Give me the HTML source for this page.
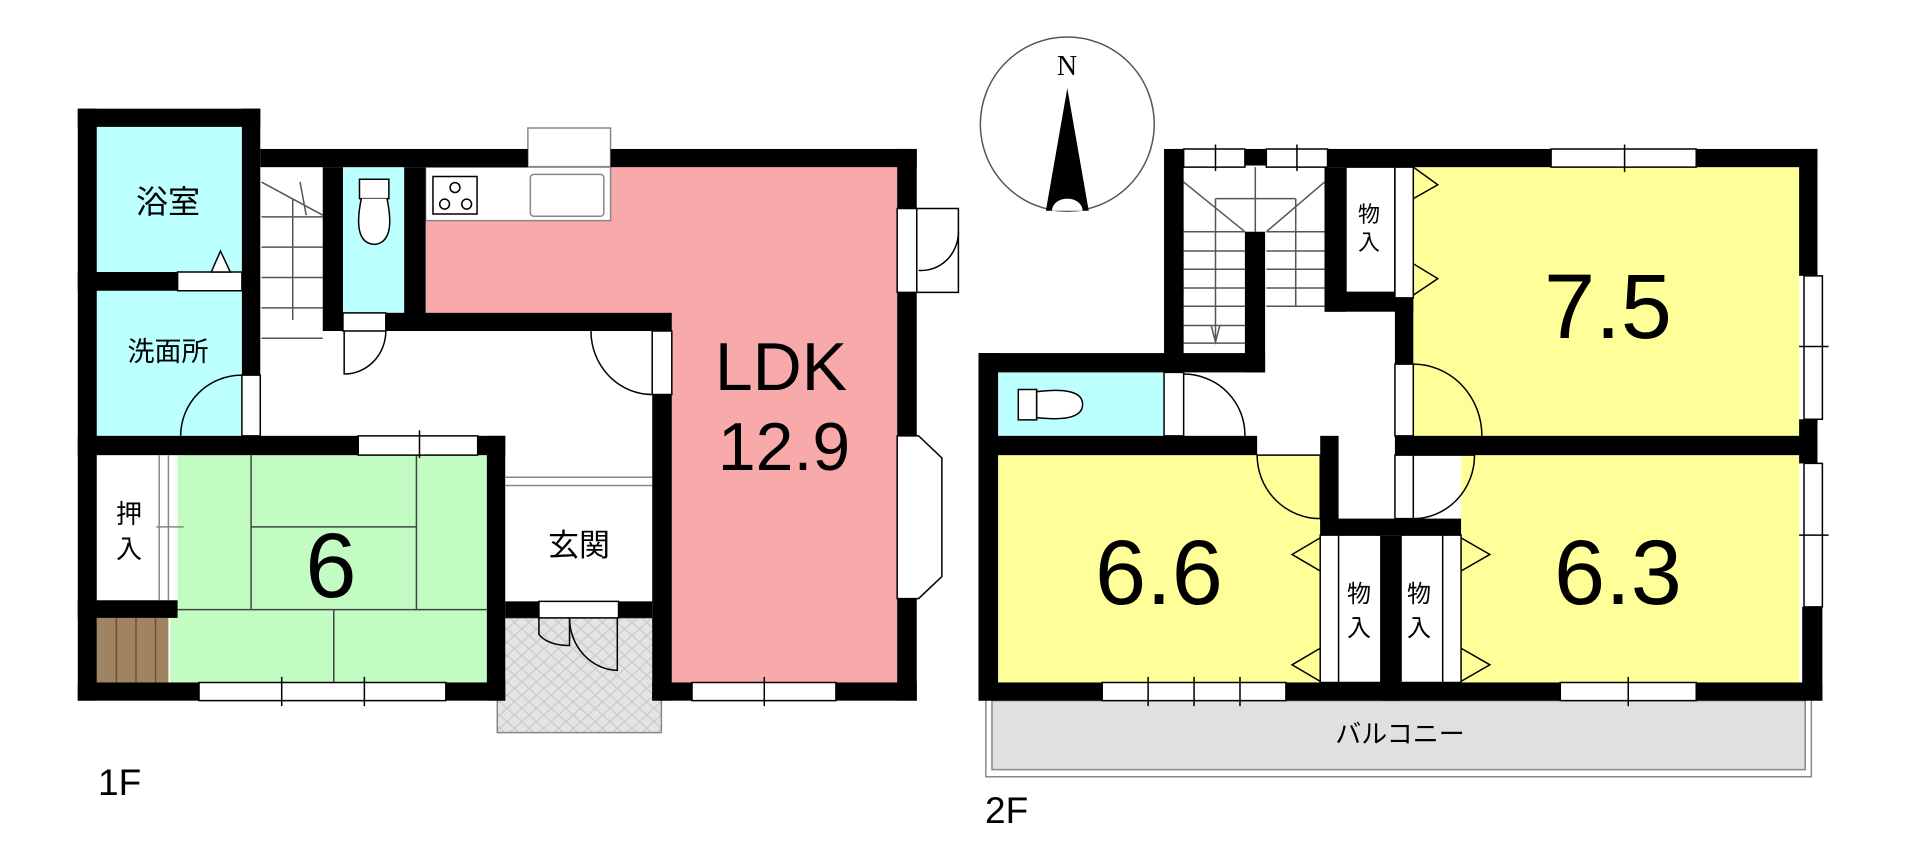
<!DOCTYPE html>
<html><head><meta charset="utf-8"><style>
html,body{margin:0;padding:0;background:#fff;overflow:hidden}
svg{display:block}
text{font-family:"Liberation Sans","Noto Sans CJK JP",sans-serif;fill:#000}
[stroke]{vector-effect:non-scaling-stroke}
g[stroke] *{vector-effect:non-scaling-stroke}
</style></head><body>
<svg width="1914" height="865" viewBox="0 0 1914 865" xmlns="http://www.w3.org/2000/svg">
<defs>
<pattern id="hat" width="24" height="24" patternUnits="userSpaceOnUse">
<rect width="24" height="24" fill="#e4e4e4"/>
<path d="M0 0L24 24M24 0L0 24" stroke="#c8c8c8" stroke-width="2"/>
</pattern>
</defs>
<!-- 1F -->
<g transform="scale(0.6124,0.5517)">
 <rect x="158" y="230" width="237" height="263" fill="#bbffff"/>
 <rect x="158" y="527" width="237" height="263" fill="#bbffff"/>
 <rect x="560" y="303" width="100" height="264" fill="#bbffff"/>
 <polygon points="695,303 1465,303 1465,1237 1097,1237 1097,567 695,567" fill="#f8a9a9"/>
 <rect x="695" y="303" width="302" height="97" fill="#fff" stroke="#888" stroke-width="1.5"/>
 <rect x="707" y="320" width="72" height="68" fill="#fff" stroke="#000" stroke-width="1.5"/>
 <ellipse cx="743" cy="340" rx="8" ry="9" fill="none" stroke="#000" stroke-width="1.5"/>
 <ellipse cx="726" cy="370" rx="8" ry="9" fill="none" stroke="#000" stroke-width="1.5"/>
 <ellipse cx="762" cy="370" rx="8" ry="9" fill="none" stroke="#000" stroke-width="1.5"/>
 <rect x="866" y="316" width="120" height="76" rx="6" fill="#fff" stroke="#888" stroke-width="1.5"/>
 <rect x="862" y="232" width="135" height="70" fill="#fff" stroke="#888" stroke-width="1.5"/>
 <rect x="290" y="825" width="505" height="412" fill="#c2fcc2"/>
 <rect x="278" y="1120" width="20" height="117" fill="#c2fcc2"/>
 <g stroke="#444" stroke-width="1.5" fill="none">
  <path d="M410 825V1105M680 825V1105M290 1105H795M410 955H680M545 1105V1237"/>
 </g>
 <rect x="158" y="825" width="102" height="263" fill="#fff"/>
 <rect x="158" y="1120" width="117" height="117" fill="#a08462"/>
 <path d="M190 1120V1237M222 1120V1237M254 1120V1237" stroke="#6b5335" stroke-width="1.5"/>
 <rect x="812" y="1120" width="268" height="208" fill="url(#hat)" stroke="#888" stroke-width="1.5"/>
 <g stroke="#555" stroke-width="1.5" fill="none">
  <path d="M427 393H527M427 448H527M427 503H527M427 558H527M427 613H527M478 360V580M427 330L527 390M490 330L500 390"/>
 </g>
 <rect x="587" y="325" width="48" height="35" fill="#fff" stroke="#000" stroke-width="1.5"/>
 <path d="M590 360Q575 440 611 443Q647 440 632 360" fill="#fff" stroke="#000" stroke-width="1.5"/>
 <g fill="#000">
  <rect x="127" y="197" width="31" height="1073"/>
  <rect x="127" y="197" width="298" height="33"/>
  <rect x="395" y="197" width="30" height="483"/>
  <rect x="127" y="493" width="163" height="34"/>
  <rect x="425" y="270" width="437" height="33"/>
  <rect x="997" y="270" width="500" height="33"/>
  <rect x="527" y="303" width="33" height="297"/>
  <rect x="660" y="303" width="35" height="297"/>
  <rect x="630" y="567" width="467" height="33"/>
  <rect x="1065" y="715" width="32" height="555"/>
  <rect x="1465" y="270" width="32" height="108"/>
  <rect x="1465" y="530" width="32" height="260"/>
  <rect x="1465" y="1085" width="32" height="185"/>
  <rect x="1065" y="1237" width="65" height="33"/>
  <rect x="1365" y="1237" width="132" height="33"/>
  <rect x="127" y="790" width="458" height="35"/>
  <rect x="780" y="790" width="45" height="35"/>
  <rect x="795" y="790" width="30" height="480"/>
  <rect x="127" y="1237" width="198" height="33"/>
  <rect x="728" y="1237" width="97" height="33"/>
  <rect x="127" y="1088" width="163" height="32"/>
  <rect x="825" y="1090" width="55" height="30"/>
  <rect x="1010" y="1090" width="55" height="30"/>
 </g>
 <g stroke="#000" stroke-width="1.5" fill="#fff">
  <rect x="290" y="493" width="105" height="34"/>
  <polygon points="345,493 376,493 360,455"/>
  <rect x="395" y="680" width="30" height="110"/>
  <path d="M395 680A100 110 0 0 0 295 790" fill="none"/>
  <rect x="560" y="567" width="70" height="33"/>
  <path d="M630 600A68 78 0 0 1 562 678V600" fill="none"/>
  <rect x="1065" y="600" width="32" height="115"/>
  <path d="M965 600A100 115 0 0 0 1065 715" fill="none"/>
  <rect x="1465" y="378" width="32" height="152"/>
  <rect x="1497" y="378" width="68" height="152"/>
  <path d="M1565 420A60 70 0 0 1 1500 490" fill="none"/>
  <polygon points="1465,790 1500,790 1538,830 1538,1045 1500,1085 1465,1085"/>
  <rect x="585" y="790" width="195" height="35"/>
  <path d="M685 780V830"/>
  <rect x="325" y="1237" width="403" height="33"/>
  <path d="M460 1227V1280M595 1227V1280"/>
  <rect x="1130" y="1237" width="235" height="33"/>
  <path d="M1248 1227V1280"/>
  <rect x="880" y="1090" width="130" height="30"/>
  <path d="M930 1120V1170Q895 1170 880 1150V1120" fill="none"/>
  <path d="M930 1120A80 95 0 0 0 1008 1215V1120" fill="none"/>
  <path d="M825 865H1065M825 880H1065" fill="none" stroke="#888"/>
  <path d="M260 825V1088M275 825V1088M255 955H300" fill="none" stroke="#888"/>
 </g>
</g>
<!-- 2F -->
<g transform="translate(954,0) scale(0.6124,0.5517)">
 <ellipse cx="185" cy="225" rx="142" ry="158" fill="#fff" stroke="#555" stroke-width="1.5"/>
 <polygon points="185,160 150,382 220,382"/>
 <path d="M160 382A25 22 0 0 1 210 382Z" fill="#fff"/>
 <rect x="72" y="675" width="271" height="115" fill="#bbffff"/>
 <rect x="105" y="706" width="30" height="55" fill="#fff" stroke="#000" stroke-width="1.5"/>
 <path d="M135 710Q210 700 210 733Q210 766 135 757Z" fill="#fff" stroke="#000" stroke-width="1.5"/>
 <rect x="750" y="303" width="630" height="487" fill="#ffff99"/>
 <rect x="72" y="825" width="526" height="412" fill="#ffff99"/>
 <rect x="828" y="825" width="552" height="412" fill="#ffff99"/>
 <rect x="62" y="1270" width="1328" height="125" fill="#e0e0e0" stroke="#888" stroke-width="1.5"/>
 <path d="M52 1270V1408H1400V1270" fill="none" stroke="#888" stroke-width="1.5"/>
 <g stroke="#555" stroke-width="1.5" fill="none">
  <path d="M375 420H475M375 455H475M375 488H475M375 522H475M375 555H475M375 590H475M375 622H475M510 420H605M510 455H605M510 488H605M510 522H605M510 555H605M427 360V620M558 360V555M427 360H558M375 330L475 420M492 303V420M605 330L510 420M420 590L427 620L434 590"/>
 </g>
 <g fill="#000">
  <rect x="343" y="270" width="32" height="405"/>
  <rect x="475" y="270" width="35" height="30"/>
  <rect x="475" y="420" width="33" height="255"/>
  <rect x="40" y="640" width="468" height="35"/>
  <rect x="40" y="640" width="32" height="630"/>
  <rect x="610" y="270" width="365" height="33"/>
  <rect x="1212" y="270" width="198" height="33"/>
  <rect x="605" y="303" width="35" height="262"/>
  <rect x="605" y="530" width="145" height="35"/>
  <rect x="720" y="540" width="30" height="120"/>
  <rect x="1380" y="270" width="30" height="230"/>
  <rect x="1380" y="760" width="30" height="80"/>
  <rect x="1385" y="1100" width="33" height="170"/>
  <rect x="40" y="790" width="455" height="35"/>
  <rect x="598" y="790" width="30" height="180"/>
  <rect x="720" y="790" width="690" height="35"/>
  <rect x="598" y="940" width="230" height="30"/>
  <rect x="697" y="970" width="33" height="300"/>
  <rect x="40" y="1237" width="202" height="33"/>
  <rect x="542" y="1237" width="448" height="33"/>
  <rect x="1212" y="1237" width="206" height="33"/>
 </g>
 <g stroke="#000" stroke-width="1.5" fill="#fff">
  <rect x="375" y="270" width="100" height="33"/>
  <rect x="510" y="270" width="100" height="33"/>
  <path d="M427 262V310M560 262V310"/>
  <rect x="975" y="270" width="237" height="33"/>
  <path d="M1095 262V312"/>
  <rect x="640" y="303" width="80" height="227"/>
  <rect x="720" y="303" width="30" height="237"/>
  <path d="M750 303L790 335L750 360M750 478L790 505L750 535" fill="none"/>
  <rect x="343" y="675" width="32" height="115"/>
  <path d="M375 678A100 110 0 0 1 475 790" fill="none"/>
  <rect x="720" y="660" width="30" height="130"/>
  <path d="M750 660A112 130 0 0 1 862 790" fill="none"/>
  <path d="M495 825H598V940A103 115 0 0 1 495 825Z" fill="none"/>
  <rect x="720" y="825" width="30" height="115"/>
  <path d="M750 825H850A100 115 0 0 1 750 940" fill="none"/>
  <rect x="1388" y="500" width="30" height="260"/>
  <path d="M1380 628H1428"/>
  <rect x="1388" y="840" width="30" height="260"/>
  <path d="M1380 970H1428"/>
  <rect x="598" y="970" width="99" height="267"/>
  <rect x="730" y="970" width="98" height="267"/>
  <path d="M628 970V1237M798 970V1237" fill="none"/>
  <path d="M598 975L552 1005L598 1035M598 1175L552 1205L598 1235M828 975L875 1005L828 1035M828 1175L875 1205L828 1235" fill="none"/>
  <rect x="242" y="1237" width="300" height="33"/>
  <path d="M317 1227V1280M392 1227V1280M467 1227V1280"/>
  <rect x="990" y="1237" width="222" height="33"/>
  <path d="M1101 1227V1280"/>
 </g>
</g>
<!-- text -->
<g>
 <text x="168" y="213" font-size="32" text-anchor="middle">浴室</text>
 <text x="168" y="361" font-size="27" text-anchor="middle">洗面所</text>
 <text x="129" y="523" font-size="26" text-anchor="middle">押</text>
 <text x="129" y="558" font-size="26" text-anchor="middle">入</text>
 <text x="331" y="597" font-size="92" text-anchor="middle">6</text>
 <text x="579" y="556" font-size="31" text-anchor="middle">玄関</text>
 <text x="781" y="390" font-size="68" text-anchor="middle">LDK</text>
 <text x="784" y="470" font-size="68" text-anchor="middle">12.9</text>
 <text x="98" y="795" font-size="37">1F</text>
 <text x="1067" y="75" font-size="28" text-anchor="middle" style="font-family:'Liberation Serif',serif">N</text>
 <text x="1369" y="222" font-size="22" text-anchor="middle">物</text>
 <text x="1369" y="250" font-size="22" text-anchor="middle">入</text>
 <text x="1359" y="602" font-size="24" text-anchor="middle">物</text>
 <text x="1359" y="636" font-size="24" text-anchor="middle">入</text>
 <text x="1419" y="602" font-size="24" text-anchor="middle">物</text>
 <text x="1419" y="636" font-size="24" text-anchor="middle">入</text>
 <text x="1608" y="338" font-size="92" text-anchor="middle">7.5</text>
 <text x="1159" y="604" font-size="92" text-anchor="middle">6.6</text>
 <text x="1618" y="604" font-size="92" text-anchor="middle">6.3</text>
 <text x="1400" y="743" font-size="26" text-anchor="middle">バルコニー</text>
 <text x="985" y="823" font-size="37">2F</text>
</g>
</svg>
</body></html>
